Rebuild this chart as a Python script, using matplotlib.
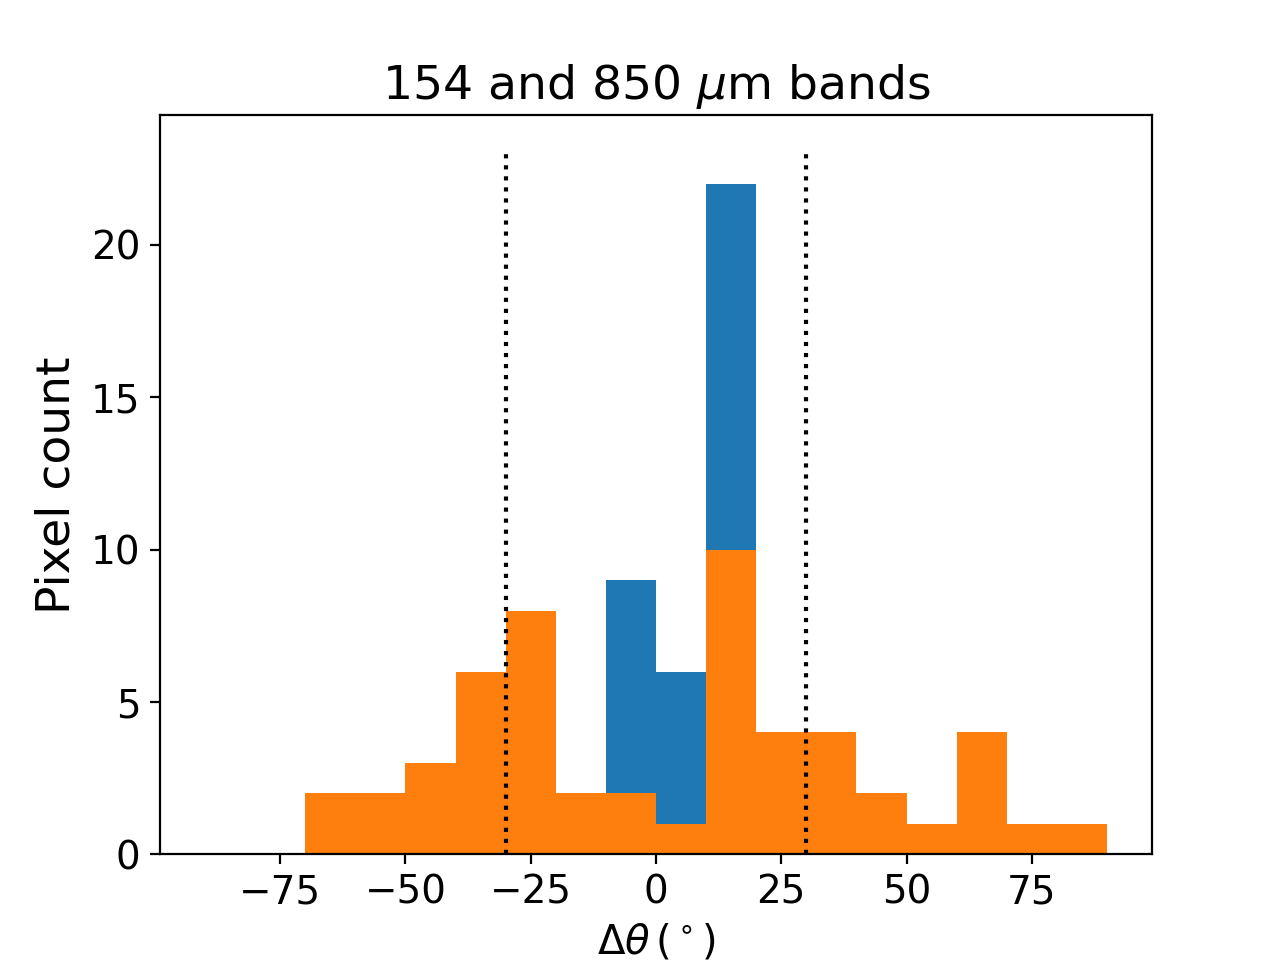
import numpy as np
import matplotlib.pyplot as plt

# bin edges (degrees) and counts
bin_edges = np.arange(-90, 91, 10)
counts_blue = [0, 0, 0, 0, 0, 0, 0, 0, 9, 6, 22, 0, 0, 0, 0, 0, 0, 0]
counts_orange = [0, 0, 2, 2, 3, 6, 8, 2, 2, 1, 10, 4, 4, 2, 1, 4, 1, 1]
cut_lines = [-30, 30]

centers = 0.5 * (bin_edges[:-1] + bin_edges[1:])

fig = plt.figure(figsize=(6.4, 4.8), dpi=200)
ax = fig.add_subplot(111)

ax.hist(centers, bins=bin_edges, weights=counts_blue, color='C0')
ax.hist(centers, bins=bin_edges, weights=counts_orange, color='C1')

for x in cut_lines:
    ax.plot([x, x], [0, 23.1], 'k:', lw=1.5)

ax.set_title(r'154 and 850 $\mu$m bands', fontsize=17)
ax.set_xlabel(r'$\Delta\theta\,(^\circ)$', fontsize=14.5)
ax.set_ylabel('Pixel count', fontsize=17)
ax.tick_params(labelsize=14)

fig.savefig('out.png')
